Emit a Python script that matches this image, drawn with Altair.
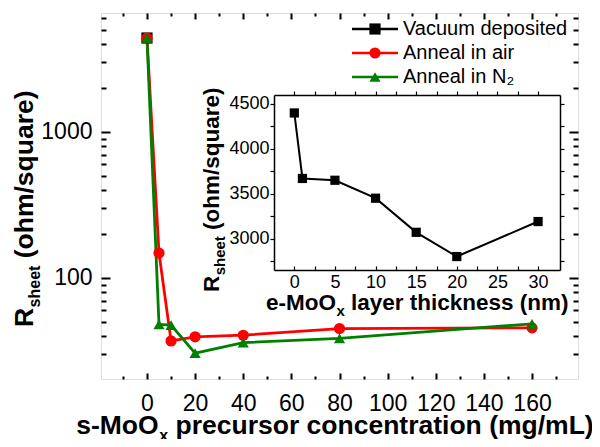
import altair as alt
import pandas as pd

# ---------------- data ----------------
series_names = ["Vacuum deposited", "Anneal in air", "Anneal in N₂"]
series_colors = ["#000000", "#ff0000", "#008000"]
series_shapes = ["square", "circle", "triangle-up"]

vac_conc = [0]
vac_r = [4400]
conc = [0, 5, 10, 20, 40, 80, 160]
air_r = [4400, 148, 37, 39.5, 40.5, 45, 45.5]
n2_r = [4400, 48, 47.5, 30.5, 36, 38.5, 48.5]

thickness = [0, 1, 5, 10, 15, 20, 30]
inset_r = [4400, 3670, 3650, 3450, 3070, 2800, 3190]

x_major = [0, 20, 40, 60, 80, 100, 120, 140, 160]
x_minor = [-10, 10, 30, 50, 70, 90, 110, 130, 150, 170]
y_major = [100, 1000]
y_minor = [30, 40, 50, 60, 70, 80, 90, 200, 300, 400, 500, 600, 700, 800, 900,
           2000, 3000, 4000, 5000, 6000]
ix_ticks = [0, 2.5, 5, 7.5, 10, 12.5, 15, 17.5, 20, 22.5, 25, 27.5, 30]
iy_ticks = [2750, 3000, 3250, 3500, 3750, 4000, 4250, 4500]

# ---------------- layout constants ----------------
W, H = 477, 366
FONT = "Liberation Sans"

main_df = pd.DataFrame({
    "series": [series_names[0]] * len(vac_conc) + [series_names[1]] * len(conc) + [series_names[2]] * len(conc),
    "conc": vac_conc + conc + conc,
    "r": vac_r + air_r + n2_r,
})
inset_df = pd.DataFrame({"t": thickness, "r": inset_r})
legend_df = pd.DataFrame({"series": series_names})
one = pd.DataFrame({"k": [0]})

color_enc = alt.Color("series:N", scale=alt.Scale(domain=series_names, range=series_colors), legend=None)
shape_enc = alt.Shape("series:N", scale=alt.Scale(domain=series_names, range=series_shapes), legend=None)

mx_scale = alt.Scale(domain=[-19.1, 179.1], nice=False, zero=False)
my_scale = alt.Scale(type="log", domain=[20.3, 6530], nice=False)
ix_scale = alt.Scale(domain=[-2.5, 32.7], range=[173, 459], nice=False, zero=False)
iy_scale = alt.Scale(domain=[2650, 4600], range=[257, 82], nice=False, zero=False)


def axis(orient, values, size, labels=False, pad=0, fs=23, expr=None, offset=0,
         domain=False, tw=2):
    kw = dict(orient=orient, values=values, tickSize=alt.ExprRef(expr=str(size)),
              labels=labels, title=None, grid=False, domain=domain, tickWidth=tw,
              tickColor="black", offset=offset, domainColor="black", domainWidth=1.5)
    if labels:
        kw.update(labelPadding=pad, labelFontSize=fs, labelFont=FONT, labelColor="black",
                  format="d", labelOverlap=False, labelFlush=False)
        if expr:
            kw["labelExpr"] = expr
    return alt.Axis(**kw)


# main lines with bottom/left labelled axes
main_lines = alt.Chart(main_df).mark_line(strokeWidth=2.8).encode(
    x=alt.X("conc:Q", scale=mx_scale, axis=axis("bottom", x_major, -6, labels=True, pad=19)),
    y=alt.Y("r:Q", scale=my_scale, axis=axis("left", y_major, -9, labels=True, pad=18)),
    color=color_enc,
)
# main points with top/right mirror axes
main_points = alt.Chart(main_df).mark_point(filled=True, size=125, opacity=1).encode(
    x=alt.X("conc:Q", scale=mx_scale, axis=axis("top", x_major, -6)),
    y=alt.Y("r:Q", scale=my_scale, axis=axis("right", y_major, -9)),
    color=color_enc,
    shape=shape_enc,
)
minor_a = alt.Chart(main_df).mark_point(opacity=0).encode(
    x=alt.X("conc:Q", scale=mx_scale, axis=axis("bottom", x_minor, -3)),
    y=alt.Y("r:Q", scale=my_scale, axis=axis("left", y_minor, -5)),
)
minor_b = alt.Chart(main_df).mark_point(opacity=0).encode(
    x=alt.X("conc:Q", scale=mx_scale, axis=axis("top", x_minor, -3)),
    y=alt.Y("r:Q", scale=my_scale, axis=axis("right", y_minor, -5)),
)

# inset
inset_lines = alt.Chart(inset_df).mark_line(color="black", strokeWidth=2).encode(
    x=alt.X("t:Q", scale=ix_scale,
            axis=axis("bottom", ix_ticks, -4, labels=True, pad=7, fs=18,
                      expr="datum.value % 5 == 0 ? datum.label : ''",
                      offset=-(H - 257), domain=True, tw=1.2)),
    y=alt.Y("r:Q", scale=iy_scale,
            axis=axis("left", iy_ticks, 4, labels=True, pad=1, fs=18,
                      expr="datum.value % 500 == 0 ? datum.label : ''",
                      offset=-173, domain=True, tw=1.2)),
)
inset_points = alt.Chart(inset_df).mark_point(shape="square", filled=True, size=85,
                                               color="black", opacity=1).encode(
    x=alt.X("t:Q", scale=ix_scale, axis=axis("top", ix_ticks, 4, offset=-82, domain=True, tw=1.2)),
    y=alt.Y("r:Q", scale=iy_scale, axis=axis("right", iy_ticks, 4, offset=-(W - 459), domain=True, tw=1.2)),
)

# legend built from the series list through a point scale
leg_y = alt.Y("series:N", scale=alt.Scale(type="point", domain=series_names, range=[16, 64], padding=0), axis=None)
leg_rule = alt.Chart(legend_df).mark_rule(strokeWidth=2.5).encode(
    x=alt.value(251), x2=alt.value(297), y=leg_y, color=color_enc)
leg_pt = alt.Chart(legend_df).mark_point(filled=True, size=125, opacity=1).encode(
    x=alt.value(274), y=leg_y, color=color_enc, shape=shape_enc)
leg_txt = alt.Chart(legend_df).mark_text(align="left", baseline="middle", font=FONT,
                                          fontSize=20, color="black").encode(
    x=alt.value(302), y=leg_y, text="series:N")


def txt(s, x, y, fs, angle=0, bold=True):
    kw = dict(align="left", baseline="alphabetic", font=FONT, fontSize=fs, color="black",
              fontWeight="bold" if bold else "normal")
    if angle:
        kw["angle"] = angle
    return alt.Chart(one).mark_text(**kw).encode(x=alt.value(x), y=alt.value(y), text=alt.value(s))


SP = 0.278  # bold space width (em)

# main x title: s-MoO_x precursor concentration (mg/mL)
XF = 26.5
x_total = 19.569 * XF + 9
xs = 239 - x_total / 2
w1 = 3.111 * XF
xt = [
    txt("s-MoO", xs, 421, XF),
    txt("x", xs + w1 + 0.5, 428, 16),
    txt("precursor concentration (mg/mL)", xs + w1 + 9.5 + SP * XF, 421, XF),
]
# main y title: R_sheet (ohm/square)
YF = 26.5
y_total = 0.722 * YF + 41.8 + 6.612 * YF
ys = 196 + y_total / 2
yt = [
    txt("R", -68, ys, YF, 270),
    txt("sheet", -61, ys - 0.722 * YF - 0.5, 16, 270),
    txt("(ohm/square)", -68, ys - 0.722 * YF - 0.5 - 41.8 - SP * YF, YF, 270),
]
# inset titles
IF = 22.5
ix_total = 13.059 * IF + 8.3
ixs = 316 - ix_total / 2
iw1 = 3.111 * IF
ixt = [
    txt("e-MoO", ixs, 297, IF),
    txt("x", ixs + iw1 + 0.5, 303, 15),
    txt("layer thickness (nm)", ixs + iw1 + 8.8 + SP * IF, 297, IF),
]
iy_total = 0.722 * IF + 39.2 + 6.612 * IF
iys = 177 + iy_total / 2
iyt = [
    txt("R", 118, iys, IF, 270),
    txt("sheet", 124, iys - 0.722 * IF - 0.5, 15, 270),
    txt("(ohm/square)", 118, iys - 0.722 * IF - 0.5 - 39.2 - SP * IF, IF, 270),
]

chart = alt.layer(
    minor_a, minor_b, main_lines, main_points, inset_lines, inset_points,
    leg_rule, leg_pt, leg_txt, *xt, *yt, *ixt, *iyt,
).resolve_scale(x="independent", y="independent").resolve_axis(
    x="independent", y="independent"
).properties(
    width=W, height=H,
    autosize=alt.AutoSizeParams(type="none"),
    padding={"left": 93, "top": 5, "right": 14, "bottom": 60},
).configure_view(stroke="black", strokeWidth=3).configure(background="white")

chart.save("out.html", embed_options={"renderer": "svg", "actions": False})
